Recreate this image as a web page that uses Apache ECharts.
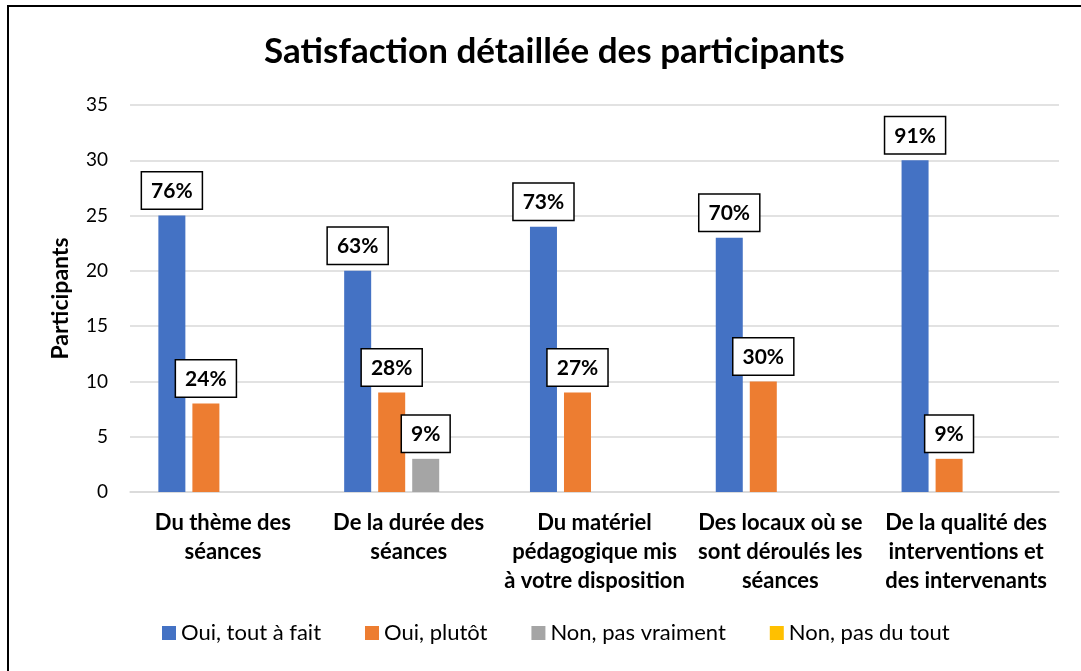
<!DOCTYPE html>
<html>
<head>
<meta charset="utf-8">
<title>Satisfaction détaillée des participants</title>
<script src="https://cdn.jsdelivr.net/npm/echarts@6/dist/echarts.min.js"></script>
<style>
  html, body { margin: 0; padding: 0; background: #fff; }
  #chart { width: 1081px; height: 671px; }
</style>
</head>
<body>
<div id="chart"></div>
<script>
var categories = [
  'Du thème des\nséances',
  'De la durée des\nséances',
  'Du matériel\npédagogique mis\nà votre disposition',
  'Des locaux où se\nsont déroulés les\nséances',
  'De la qualité des\ninterventions et\ndes intervenants'
];
var seriesNames = ['Oui, tout à fait', 'Oui, plutôt', 'Non, pas vraiment', 'Non, pas du tout'];
var toutAFait = [25, 20, 24, 23, 30];
var plutot = [8, 9, 9, 10, 3];
var pasVraiment = [0, 3, 0, 0, 0];
var pasDuTout = [0, 0, 0, 0, 0];
var pctToutAFait = ['76%', '63%', '73%', '70%', '91%'];
var pctPlutot = ['24%', '28%', '27%', '30%', '9%'];
var pctPasVraiment = ['', '9%', '', '', ''];
var pctPasDuTout = ['', '', '', '', ''];
var yTicks = [0, 5, 10, 15, 20, 25, 30, 35];

var colors = ['#4472C4', '#ED7D31', '#A5A5A5', '#FFC000'];
var FONT = 'Lato, "Open Sans", sans-serif';

// label en boite, cache pour les valeurs nulles
function buildData(values, pcts) {
  var out = [];
  for (var i = 0; i < values.length; i++) {
    out.push({
      value: values[i],
      label: { show: values[i] > 0, formatter: pcts[i] }
    });
  }
  return out;
}

var boxLabel = {
  show: true,
  position: 'top',
  distance: 7,
  color: '#000',
  fontFamily: FONT,
  fontWeight: 'bold',
  fontSize: 21,
  backgroundColor: '#fff',
  borderColor: '#000',
  borderWidth: 1.5,
  padding: [8, 9, 7, 9]
};

function makeSeries(name, values, pcts, idx) {
  return {
    name: name,
    type: 'bar',
    barWidth: 27,
    barGap: '26%',
    itemStyle: { color: colors[idx] },
    label: boxLabel,
    data: buildData(values, pcts)
  };
}

var chart = echarts.init(document.getElementById('chart'));
chart.setOption({
  animation: false,
  color: colors,
  title: {
    text: 'Satisfaction détaillée des participants',
    left: 259,
    top: 29,
    textStyle: { fontFamily: FONT, fontWeight: 'bold', fontSize: 35, color: '#000' }
  },
  graphic: [{
    type: 'rect',
    shape: { x: 8, y: 6, width: 1200, height: 800 },
    style: { fill: 'none', stroke: '#000', lineWidth: 2 },
    silent: true
  }],
  legend: {
    bottom: 22,
    left: 157,
    itemWidth: 14,
    itemHeight: 14,
    itemGap: 44,
    icon: 'rect',
    textStyle: { fontFamily: FONT, fontSize: 22, color: '#000' },
    data: seriesNames
  },
  grid: { left: 130, right: 22, top: 105, bottom: 179 },
  xAxis: {
    type: 'category',
    data: categories,
    axisLine: { lineStyle: { color: '#d9d9d9', width: 1.5 } },
    axisTick: { show: false },
    axisLabel: {
      interval: 0,
      margin: 16,
      color: '#000',
      fontFamily: FONT,
      fontWeight: 'bold',
      fontSize: 22,
      lineHeight: 29
    }
  },
  yAxis: {
    type: 'value',
    min: yTicks[0],
    max: yTicks[yTicks.length - 1],
    interval: 5,
    name: 'Participants',
    nameLocation: 'middle',
    nameGap: 58,
    nameTextStyle: { fontFamily: FONT, fontWeight: 'bold', fontSize: 23, color: '#000' },
    axisLine: { show: false },
    axisTick: { show: false },
    splitLine: { lineStyle: { color: '#d9d9d9', width: 1.5 } },
    axisLabel: { margin: 22, color: '#000', fontFamily: FONT, fontSize: 19 }
  },
  series: [
    makeSeries(seriesNames[0], toutAFait, pctToutAFait, 0),
    makeSeries(seriesNames[1], plutot, pctPlutot, 1),
    makeSeries(seriesNames[2], pasVraiment, pctPasVraiment, 2),
    makeSeries(seriesNames[3], pasDuTout, pctPasDuTout, 3)
  ]
});
</script>
</body>
</html>
